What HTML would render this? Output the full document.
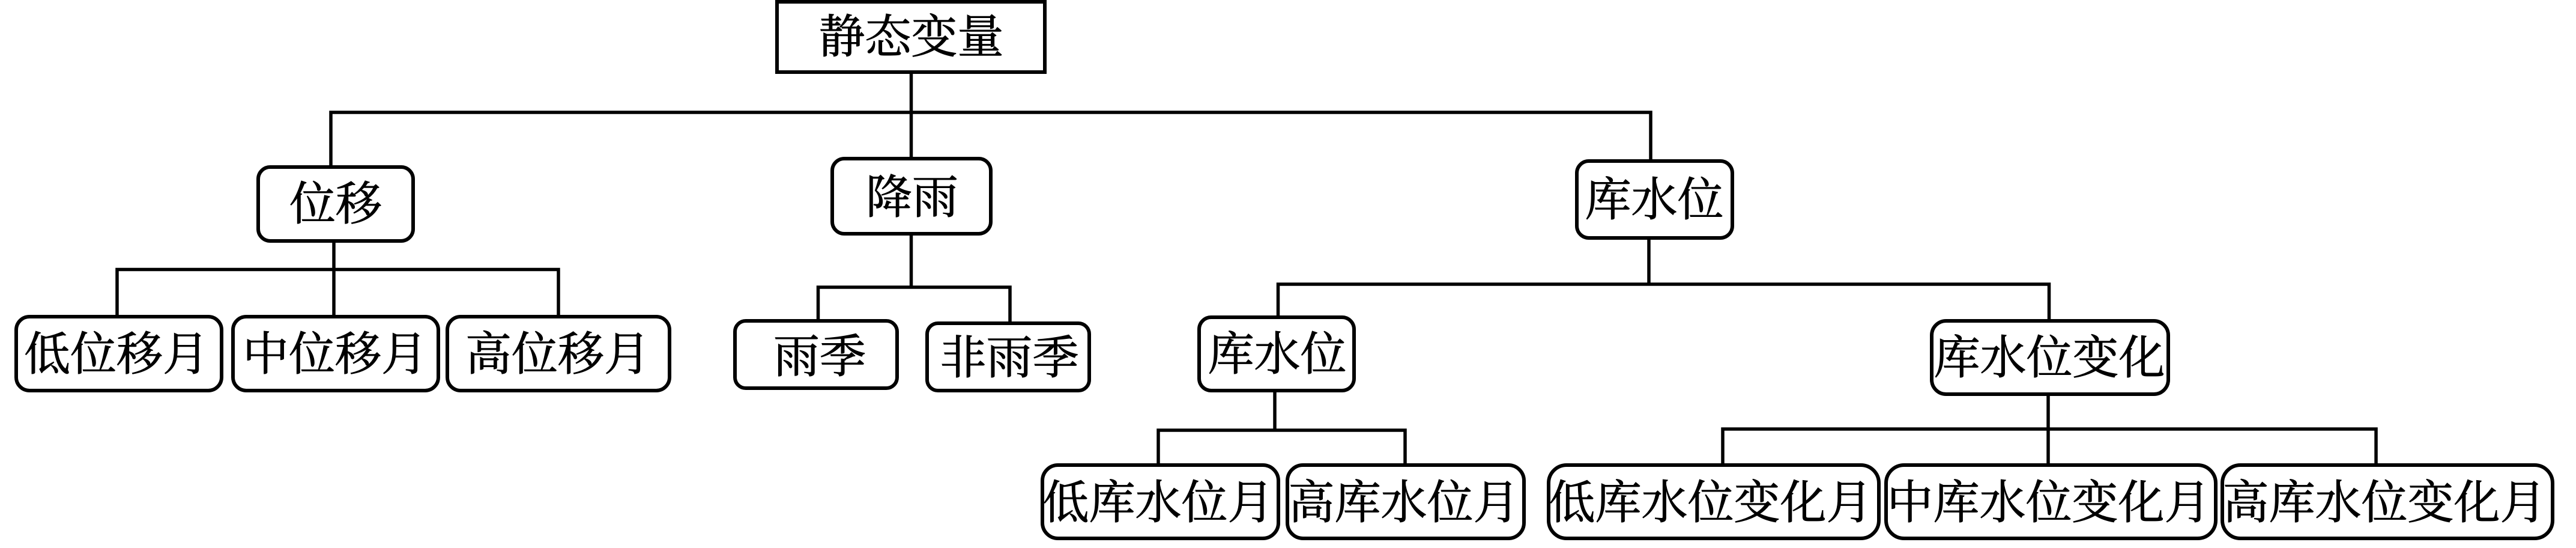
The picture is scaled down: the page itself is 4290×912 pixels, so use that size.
<!DOCTYPE html>
<html lang="zh">
<head>
<meta charset="utf-8">
<title>静态变量</title>
<style>
html,body{margin:0;padding:0;background:#fff;width:4290px;height:912px;overflow:hidden}
svg{display:block}
text{font-family:"Liberation Serif","Noto Serif CJK SC",serif;font-size:77px;text-anchor:middle;fill:#000;stroke:#000;stroke-width:1}
.b{fill:#fff;stroke:#000;stroke-width:6}
.l{fill:none;stroke:#000;stroke-width:5.5}
</style>
</head>
<body>
<svg width="4290" height="912" viewBox="0 0 4290 912" xmlns="http://www.w3.org/2000/svg">
<!-- connectors -->
<path class="l" d="M1517.5 120V264M551 277V187H2749V268"/>
<path class="l" d="M556 401V527M195 527V448.5H930V527"/>
<path class="l" d="M1517.5 389V478M1362.5 533V478H1682V538"/>
<path class="l" d="M2746 396V473M2128.5 528V473H3412.5V533"/>
<path class="l" d="M2123 650V716M1929 774V716H2340V774"/>
<path class="l" d="M3411 656V774M2869 774V714H3957V774"/>
<!-- nodes -->
<rect class="b" x="1294" y="3" width="446" height="117" style="stroke-linejoin:miter"/>
<rect class="b" x="430" y="278" width="258" height="123" rx="20"/>
<rect class="b" x="1386" y="264" width="264" height="125" rx="20"/>
<rect class="b" x="2626" y="268" width="259" height="128" rx="20"/>
<rect class="b" x="27" y="527" width="342" height="123" rx="22"/>
<rect class="b" x="388" y="527" width="342" height="123" rx="22"/>
<rect class="b" x="745" y="527" width="370" height="123" rx="22"/>
<rect class="b" x="1224" y="534" width="270" height="112" rx="18"/>
<rect class="b" x="1544" y="538" width="270" height="112" rx="18"/>
<rect class="b" x="1997" y="528" width="258" height="122" rx="20"/>
<rect class="b" x="3217" y="534" width="394" height="122" rx="24"/>
<rect class="b" x="1736" y="774" width="393" height="122" rx="26"/>
<rect class="b" x="2144" y="774" width="394" height="122" rx="26"/>
<rect class="b" x="2579" y="774" width="550" height="122" rx="30"/>
<rect class="b" x="3141" y="774" width="549" height="122" rx="30"/>
<rect class="b" x="3701" y="774" width="550" height="122" rx="30"/>
<!-- labels -->
<text x="1517.5" y="88">静态变量</text>
<text x="559" y="366">位移</text>
<text x="1519" y="355">降雨</text>
<text x="2755" y="359">库水位</text>
<text x="194" y="616">低位移月</text>
<text x="558" y="616">中位移月</text>
<text x="929" y="616">高位移月</text>
<text x="1365" y="620">雨季</text>
<text x="1681" y="622">非雨季</text>
<text x="2127" y="616">库水位</text>
<text x="3413" y="622">库水位变化</text>
<text x="1929" y="863">低库水位月</text>
<text x="2338" y="863">高库水位月</text>
<text x="2849" y="863">低库水位变化月</text>
<text x="3412" y="863">中库水位变化月</text>
<text x="3971" y="863">高库水位变化月</text>
</svg>
</body>
</html>
